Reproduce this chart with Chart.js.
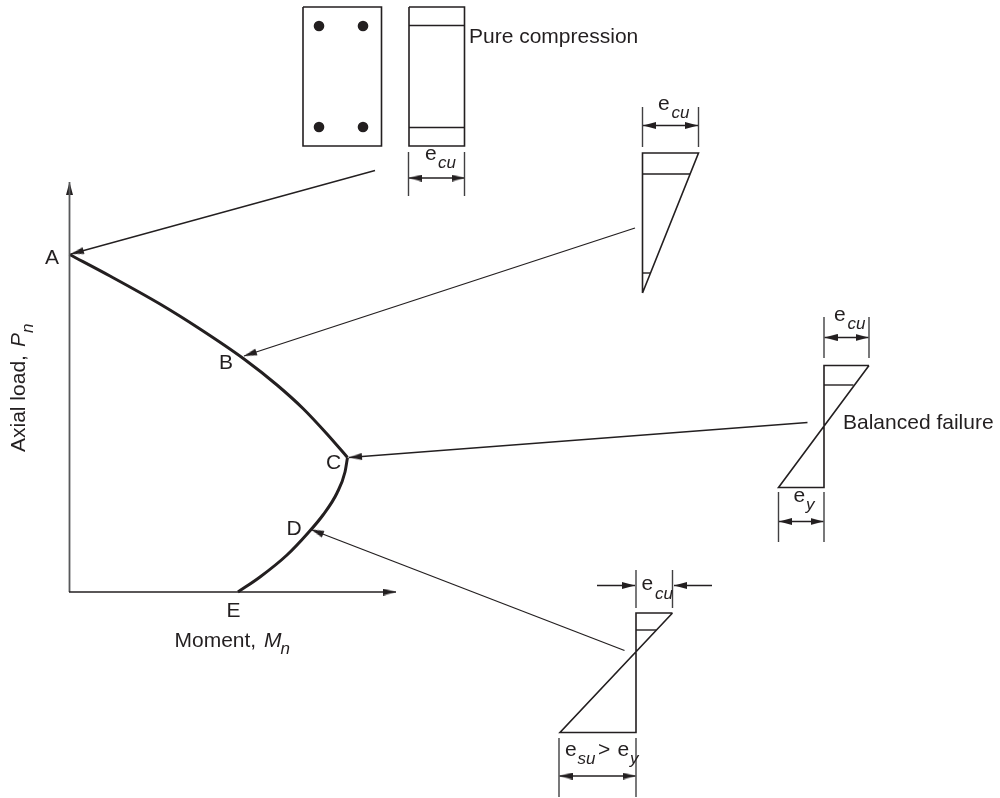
<!DOCTYPE html>
<html>
<head>
<meta charset="utf-8">
<style>
  html, body { margin: 0; padding: 0; background: #fff; }
  canvas { display: block; }
</style>
<script src="https://cdn.jsdelivr.net/npm/chart.js@4"></script>
</head>
<body>
<canvas id="interactionChart" width="1000" height="798"></canvas>
<script>
// interaction curve, x = moment, y = axial load, read in picture units
const curveUpper = [[69.5,254.5],[110,276],[160,304],[200,329],[244,359],[277,385],[303,408.5],[327,434],[347.5,457.5]];
const curveLower = [[238,592],[260,577],[287,555],[308,533],[323,515],[337,493],[345,472],[347.5,457.5]];

const momentAxis = [[69,592],[396,592]];
const loadAxis = [[69.5,592],[69.5,182]];

// column section and the strain diagrams
const sectionBox = [[303,7],[381.5,7],[381.5,146],[303,146],[303,7]];
const barSpots = [[319,26],[363,26],[319,127],[363,127]];
const pureBlock = [[409,7],[464.5,7],[464.5,146],[409,146],[409,7]];
const pureTop = [[409,25.5],[464.5,25.5]];
const pureBottom = [[409,127.5],[464.5,127.5]];
const wedgeB = [[642.5,293],[642.5,153],[698.5,153],[642.5,293]];
const wedgeBTop = [[642.5,174],[690,174]];
const wedgeBBottom = [[642.5,273],[650.5,273]];
const wedgeC = [[869,365.5],[824,365.5],[824,487.5],[778.5,487.5],[869,365.5]];
const wedgeCTop = [[824,385],[853.5,385]];
const wedgeD = [[672.5,613],[636,613],[636,732.5],[560,732.5],[672.5,613]];
const wedgeDTop = [[636,630],[656,630]];

// extension lines of the dimensions
const extLines = [
  [[408.5,152],[408.5,196]], [[464.5,152],[464.5,196]],
  [[642.5,107],[642.5,147]], [[698.5,107],[698.5,147]],
  [[824,317],[824,358]], [[869,317],[869,358]],
  [[778.5,492],[778.5,542]], [[824,492],[824,542]],
  [[636,570],[636,608]], [[672.5,570],[672.5,608]],
  [[559,738],[559,797]], [[636,738],[636,797]]
];

// [tail, tip] of the single headed arrows
const leaderArrows = [
  [[375,170.5],[71,254]],
  [[635,228],[244,356]],
  [[807.5,422.5],[349,457.5]],
  [[624.5,650.5],[311,529.5]],
  [[597,585.5],[635,585.5]],
  [[712,585.5],[674,585.5]]
];
// [one end, other end] of the double headed ones
const dimArrows = [
  [[409,178],[464.5,178]],
  [[643,125.5],[698,125.5]],
  [[824.5,337.5],[868.5,337.5]],
  [[779,521.5],[823.5,521.5]],
  [[559.5,776],[635.5,776]]
];

const curvePoints = ['A', 'B', 'C', 'D', 'E'];
const xTitle = ['Moment, ', 'M', 'n'];
const yTitle = ['Axial load, ', 'P', 'n'];
const strainSymbol = 'e', crushSub = 'cu', yieldSub = 'y', steelSub = 'su';

const ink = '#231f20';
const face = '"Liberation Sans", Arial, sans-serif';
const plain = '21px ' + face, ital = 'italic 21px ' + face, sub = 'italic 17px ' + face;

function toPts(list) {
  return list.map(p => ({ x: p[0], y: p[1] }));
}

function lineSet(list, width, colour) {
  return {
    data: toPts(list), showLine: true, pointRadius: 0, tension: 0,
    borderWidth: width, borderColor: colour || ink
  };
}

// arrow image: the tip sits on the middle of the canvas, so the point is the tip
function arrowImage(len, wide) {
  const c = document.createElement('canvas');
  c.width = len * 2;
  c.height = wide;
  const g = c.getContext('2d');
  g.fillStyle = ink;
  g.beginPath();
  g.moveTo(0, 0);
  g.lineTo(len, wide / 2);
  g.lineTo(0, wide);
  g.closePath();
  g.fill();
  return c;
}

const heads = [];
function addHead(from, to) {
  heads.push({ x: to[0], y: to[1], r: Math.atan2(to[1] - from[1], to[0] - from[0]) * 180 / Math.PI });
}
leaderArrows.forEach(a => addHead(a[0], a[1]));
dimArrows.forEach(a => { addHead(a[0], a[1]); addHead(a[1], a[0]); });
addHead(momentAxis[0], momentAxis[1]);
addHead(loadAxis[0], loadAxis[1]);

const datasets = [
  lineSet(momentAxis, 1.6),
  lineSet(loadAxis, 1.8, '#58595b'),
  { ...lineSet(curveUpper, 3), cubicInterpolationMode: 'monotone' },
  { ...lineSet(curveLower, 3), cubicInterpolationMode: 'monotone' }
];
[sectionBox, pureBlock, wedgeB, wedgeC, wedgeD].forEach(s => datasets.push(lineSet(s, 1.6)));
[pureTop, pureBottom, wedgeBTop, wedgeBBottom, wedgeCTop, wedgeDTop].forEach(s => datasets.push(lineSet(s, 1.4)));
extLines.forEach(s => datasets.push(lineSet(s, 1.4, '#414042')));
leaderArrows.forEach(s => datasets.push(lineSet(s, 1.3)));
dimArrows.forEach(s => datasets.push(lineSet(s, 1.3)));
datasets.push({ data: toPts(barSpots), pointRadius: 5.3, pointBackgroundColor: ink, pointBorderWidth: 0 });
datasets.push({
  data: heads.map(h => ({ x: h.x, y: h.y })),
  pointStyle: arrowImage(13, 7),
  pointRadius: 1,
  rotation: heads.map(h => h.r)
});

const notes = [
  ['Pure compression', 469, 42.5, plain],
  ['Balanced failure', 843, 428.5, plain],
  [curvePoints[0], 45, 264, plain],
  [curvePoints[1], 219, 369, plain],
  [curvePoints[2], 326, 469, plain],
  [curvePoints[3], 286.5, 535, plain],
  [curvePoints[4], 226.5, 616.5, plain],
  [xTitle[0], 174.5, 646.5, plain],
  [xTitle[1], 264, 646.5, ital],
  [xTitle[2], 280.5, 653.5, sub],
  [strainSymbol, 425, 159.5, plain], [crushSub, 438, 167.5, sub],
  [strainSymbol, 658, 109.5, plain], [crushSub, 671.5, 117.5, sub],
  [strainSymbol, 834, 320.5, plain], [crushSub, 847.5, 329, sub],
  [strainSymbol, 793.5, 501.5, plain], [yieldSub, 806, 509.5, sub],
  [strainSymbol, 641.5, 590, plain], [crushSub, 655, 598.5, sub],
  [strainSymbol, 565, 756, plain], [steelSub, 577.5, 764, sub],
  ['>', 598, 756, plain],
  [strainSymbol, 617.5, 756, plain], [yieldSub, 630, 764, sub]
];

const textPlugin = {
  id: 'diagramText',
  afterDraw(chart) {
    const ctx = chart.ctx;
    ctx.save();
    ctx.fillStyle = ink;
    ctx.textBaseline = 'alphabetic';
    notes.forEach(n => {
      ctx.font = n[3];
      ctx.fillText(n[0], n[1], n[2]);
    });
    // rotated axis title
    ctx.translate(25, 452);
    ctx.rotate(-Math.PI / 2);
    ctx.font = plain;
    ctx.fillText(yTitle[0], 0, 0);
    ctx.font = ital;
    ctx.fillText(yTitle[1], 105, 0);
    ctx.font = sub;
    ctx.fillText(yTitle[2], 119, 8);
    ctx.restore();
  }
};

new Chart('interactionChart', {
  type: 'scatter',
  data: { datasets },
  options: {
    responsive: false,
    animation: false,
    layout: { padding: 0, autoPadding: false },
    plugins: { legend: { display: false }, tooltip: { enabled: false } },
    scales: {
      x: { type: 'linear', min: 0, max: 1000, display: false },
      y: { type: 'linear', min: 0, max: 798, reverse: true, display: false }
    }
  },
  plugins: [textPlugin]
});
</script>
</body>
</html>
